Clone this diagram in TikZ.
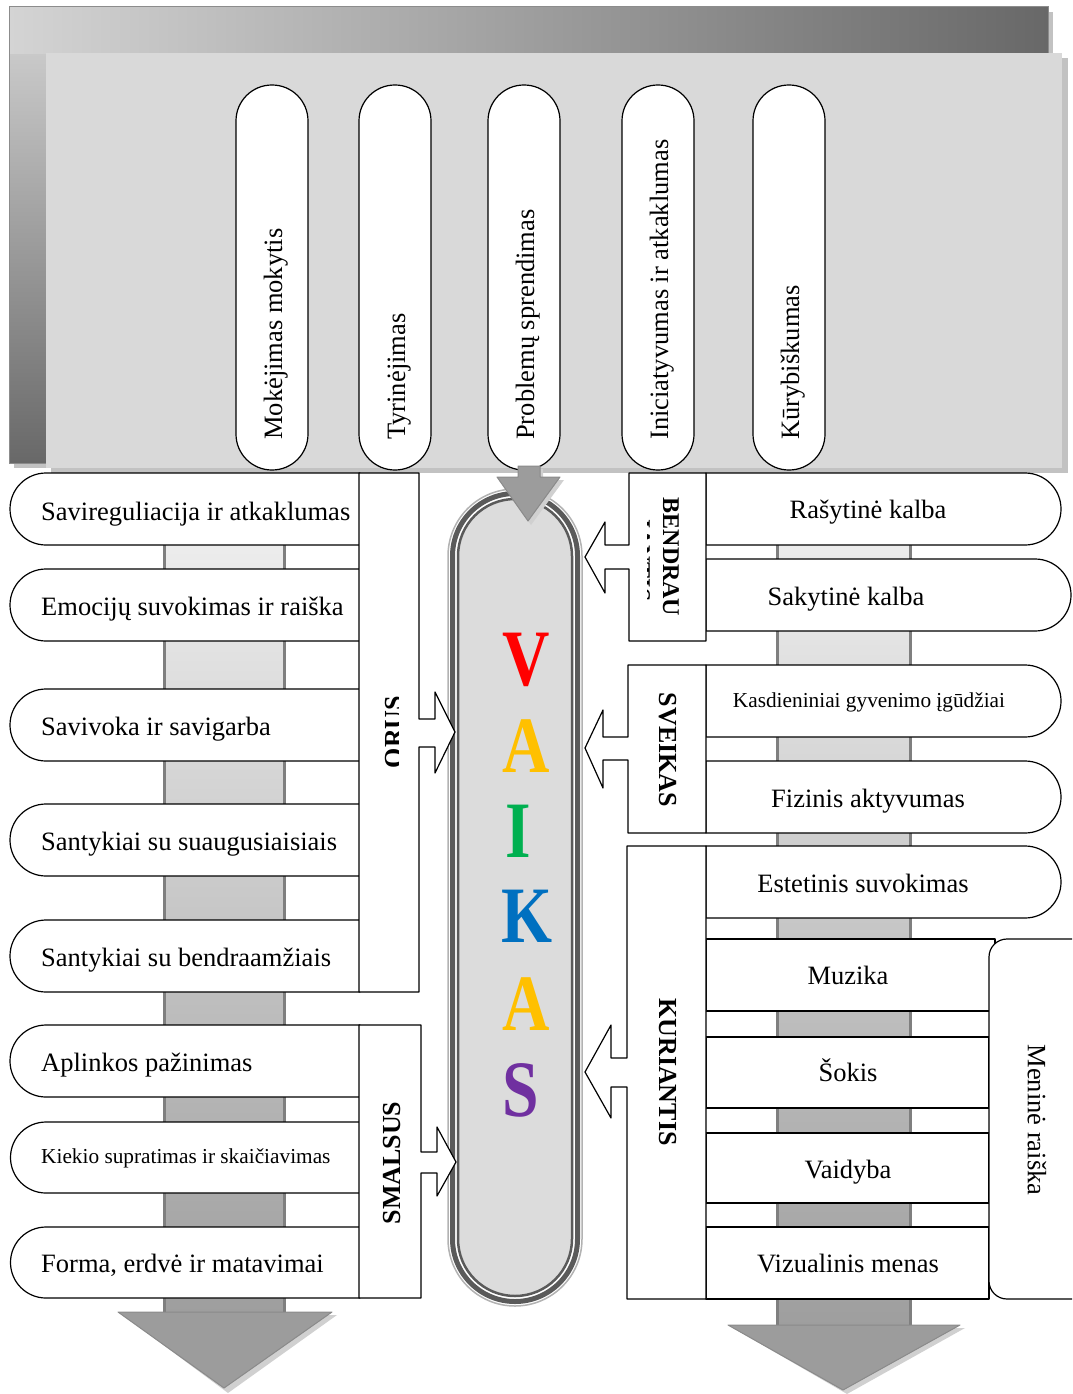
\documentclass[tikz,border=0pt]{standalone}
\usepackage{fontspec}
\setmainfont{Liberation Serif}
\definecolor{panel}{HTML}{D9D9D9}
\definecolor{panelshadow}{HTML}{C2C2C2}
\definecolor{framelight}{HTML}{D4D4D4}
\definecolor{framedark}{HTML}{686868}
\definecolor{frameedge}{HTML}{8C8C8C}
\definecolor{barline}{HTML}{7F7F7F}
\definecolor{bartop}{HTML}{F5F5F5}
\definecolor{barbottom}{HTML}{9E9E9E}
\definecolor{headgray}{HTML}{9C9C9C}
\definecolor{headedge}{HTML}{8A8A8A}
\definecolor{headshadow}{HTML}{D0D0D0}
\definecolor{capdark}{HTML}{5A5A5A}
\definecolor{capfill}{HTML}{DCDCDC}
\definecolor{vred}{HTML}{FF0000}
\definecolor{vyellow}{HTML}{FFC000}
\definecolor{vgreen}{HTML}{00B050}
\definecolor{vblue}{HTML}{0070C0}
\definecolor{vpurple}{HTML}{7030A0}
\begin{document}
\begin{tikzpicture}[x=1pt,y=-1pt,
  itembox/.style={draw=black, fill=white, line width=1.2pt, line join=round},
  capsule/.style={draw=black, fill=white, line width=1.2pt, rounded corners=35.9pt},
  itemtxt/.style={font=\fontsize{26.5}{30}\selectfont, inner sep=0pt},
  smalltxt/.style={font=\fontsize{21.3}{24}\selectfont, inner sep=0pt},
  lbl/.style={font=\bfseries\fontsize{26}{28}\selectfont, inner sep=0pt},
  lblsmall/.style={font=\bfseries\fontsize{24}{28}\selectfont, inner sep=0pt},
  letter/.style={font=\bfseries\fontsize{80}{80}\selectfont, inner sep=0pt},
  barside/.style={draw=barline, line width=3pt},
  head/.style={fill=headgray, draw=headedge, line width=1pt, line join=round}]
\useasboundingbox (0,0) rectangle (1072,1394);
\clip (0,0) rectangle (1072,1394);

% ---------- vertical gray bars with big arrows ----------
\shade[top color=bartop, bottom color=barbottom] (164,460) rectangle (284,1313);
\draw[barside] (164,460) -- (164,1313);
\draw[barside] (284,460) -- (284,1313);
\fill[headshadow] (123,1315) -- (337,1315) -- (228,1393) -- cycle;
\path[head] (118,1312) -- (332,1312) -- (224,1388) -- cycle;

\shade[top color=bartop, bottom color=barbottom] (777,460) rectangle (910,1326);
\draw[barside] (777,460) -- (777,1326);
\draw[barside] (910,460) -- (910,1326);
\fill[headshadow] (733,1328) -- (965,1328) -- (847,1394) -- cycle;
\path[head] (728,1325) -- (960,1325) -- (843,1390) -- cycle;

% ---------- top panel ----------
\fill[panelshadow] (14,12) rectangle (1053,468);
\shade[top color=framelight, bottom color=framedark] (9,7) rectangle (47,463);
\shade[left color=framelight, right color=framedark] (9,7) rectangle (1048,54);
\draw[frameedge, line width=1pt] (9,7) rectangle (1048,463);
\fill[panelshadow] (51,58) rectangle (1068,473);
\fill[panel] (46,53) rectangle (1062,468);

\filldraw[capsule] (236,85) rectangle (308,470);
\filldraw[capsule] (359,85) rectangle (431,470);
\filldraw[capsule] (488,85) rectangle (560,470);
\filldraw[capsule] (622,85) rectangle (694,470);
\filldraw[capsule] (753,85) rectangle (825,470);
\node[itemtxt, rotate=90, anchor=base west] (t1) at (282,440) {Mokėjimas mokytis};
\node[itemtxt, rotate=90, anchor=base west] (t2) at (405,440) {Tyrinėjimas};
\node[itemtxt, rotate=90, anchor=base west] (t3) at (534,440) {Problemų sprendimas};
\node[itemtxt, rotate=90, anchor=base west] (t4) at (668,440) {Iniciatyvumas ir atkaklumas};
\node[itemtxt, rotate=90, anchor=base west] (t5) at (799,440) {Kūrybiškumas};

% ---------- central capsule VAIKAS ----------
\filldraw[draw=gray!60, fill=white, line width=1.5pt, rounded corners=67pt] (448,489) rectangle (582,1306);
\draw[capdark, line width=5pt, rounded corners=62.5pt] (452.5,493.5) rectangle (577.5,1301.5);
\filldraw[draw=capdark, fill=capfill, line width=2.5pt, rounded corners=57pt] (458,499) rectangle (572,1296);

% top arrow into the capsule
\fill[headshadow] (521,469) -- (543,469) -- (543,480) -- (564,480) -- (531,525) -- (500,480) -- (521,480) -- cycle;
\path[head] (518,466) -- (540,466) -- (540,477) -- (560,477) -- (528,521) -- (497,477) -- (518,477) -- cycle;

\node[letter, text=vred] (lv) at (526,660) {\scalebox{0.82}[1]{V}};
\node[letter, text=vyellow] (la1) at (526,746) {\scalebox{0.82}[1]{A}};
\node[letter, text=vgreen] (li) at (518,831) {\scalebox{0.82}[1]{I}};
\node[letter, text=vblue] (lk) at (527,916) {\scalebox{0.82}[1]{K}};
\node[letter, text=vyellow] (la2) at (526,1004) {\scalebox{0.82}[1]{A}};
\node[letter, text=vpurple] (ls) at (521,1090) {\scalebox{0.82}[1]{S}};

% ---------- left items ----------
\filldraw[itembox] (360,473) -- (46,473) arc[start angle=270, end angle=90, radius=36] -- (360,545) -- cycle;
\filldraw[itembox] (360,569) -- (46,569) arc[start angle=270, end angle=90, radius=36] -- (360,641) -- cycle;
\filldraw[itembox] (360,689) -- (46,689) arc[start angle=270, end angle=90, radius=36] -- (360,761) -- cycle;
\filldraw[itembox] (360,804) -- (46,804) arc[start angle=270, end angle=90, radius=36] -- (360,876) -- cycle;
\filldraw[itembox] (360,920) -- (46,920) arc[start angle=270, end angle=90, radius=36] -- (360,992) -- cycle;
\filldraw[itembox] (360,1025) -- (46,1025) arc[start angle=270, end angle=90, radius=36] -- (360,1097) -- cycle;
\filldraw[itembox] (364,1122) -- (46,1122) arc[start angle=270, end angle=90, radius=35.5] -- (364,1193) -- cycle;
\filldraw[itembox] (360,1227) -- (46,1227) arc[start angle=270, end angle=90, radius=35.5] -- (360,1298) -- cycle;

\node[itemtxt, anchor=base west] (l1) at (41,520) {Savireguliacija ir atkaklumas};
\node[itemtxt, anchor=base west] (l2) at (41,615) {Emocijų suvokimas ir raiška};
\node[itemtxt, anchor=base west] (l3) at (41,735) {Savivoka ir savigarba};
\node[itemtxt, anchor=base west] (l4) at (41,850) {Santykiai su suaugusiaisiais};
\node[itemtxt, anchor=base west] (l5) at (41,966) {Santykiai su bendraamžiais};
\node[itemtxt, anchor=base west] (l6) at (41,1071) {Aplinkos pažinimas};
\node[smalltxt, anchor=base west] (l7) at (41,1163) {Kiekio supratimas ir skaičiavimas};
\node[itemtxt, anchor=base west] (l8) at (41,1272) {Forma, erdvė ir matavimai};

% ORUS box with arrow
\filldraw[itembox] (359,473) -- (419,473) -- (419,719) -- (435,719) -- (435,692) -- (455,732) -- (435,773) -- (435,747) -- (419,747) -- (419,992) -- (359,992) -- cycle;
\begin{scope}
\clip (362,690) rectangle (398.5,775);
\node[lbl, rotate=90] (orus) at (394,732) {ORUS};
\end{scope}

% SMALSUS box with arrow
\filldraw[itembox] (359,1025) -- (421,1025) -- (421,1152) -- (437,1152) -- (437,1127) -- (456,1162) -- (437,1196) -- (437,1173) -- (421,1173) -- (421,1298) -- (359,1298) -- cycle;
\node[lbl, rotate=90] (smalsus) at (392.5,1163) {SMALSUS};

% ---------- right items ----------
\filldraw[itembox] (706,473) -- (1025,473) arc[start angle=270, end angle=450, radius=36] -- (706,545) -- cycle;
\filldraw[itembox] (706,559) -- (1035,559) arc[start angle=270, end angle=450, radius=36] -- (706,631) -- cycle;
\filldraw[itembox] (706,665) -- (1025,665) arc[start angle=270, end angle=450, radius=36] -- (706,737) -- cycle;
\filldraw[itembox] (706,761) -- (1025,761) arc[start angle=270, end angle=450, radius=36] -- (706,833) -- cycle;
\filldraw[itembox] (706,846) -- (1025,846) arc[start angle=270, end angle=450, radius=36] -- (706,918) -- cycle;
\filldraw[itembox] (706,939) rectangle (995,1011);
\filldraw[itembox] (706,1037) rectangle (989,1108);
\filldraw[itembox] (706,1133) rectangle (989,1203);
\filldraw[itembox] (706,1227) rectangle (989,1299);

\node[itemtxt, anchor=base] (r1) at (868,518) {Rašytinė kalba};
\node[itemtxt, anchor=base] (r2) at (846,605) {Sakytinė kalba};
\node[smalltxt, anchor=base] (r3) at (869,707) {Kasdieniniai gyvenimo įgūdžiai};
\node[itemtxt, anchor=base] (r4) at (868,807) {Fizinis aktyvumas};
\node[itemtxt, anchor=base] (r5) at (863,892) {Estetinis suvokimas};
\node[itemtxt, anchor=base] (r6) at (848,984) {Muzika};
\node[itemtxt, anchor=base] (r7) at (848,1081) {Šokis};
\node[itemtxt, anchor=base] (r8) at (848,1178) {Vaidyba};
\node[itemtxt, anchor=base] (r9) at (848,1272) {Vizualinis menas};

% BENDRAUJANTIS box
\filldraw[itembox] (706,473) -- (629,473) -- (629,545) -- (605,545) -- (605,522) -- (585,557) -- (605,593) -- (605,569) -- (629,569) -- (629,641) -- (706,641) -- cycle;
\node[lblsmall, rotate=-90] (bendrau) at (671,557) {BENDRAU};
\begin{scope}
\clip (647,480) rectangle (654,635);
\node[lblsmall, rotate=-90] (jantis) at (642,559) {JANTIS};
\end{scope}

% SVEIKAS box
\filldraw[itembox] (706,665) -- (628,665) -- (628,737) -- (603,737) -- (603,710) -- (585,748) -- (603,788) -- (603,760) -- (628,760) -- (628,833) -- (706,833) -- cycle;
\node[lbl, rotate=-90] (sveikas) at (668,750) {SVEIKAS};

% KURIANTIS box
\filldraw[itembox] (706,846) -- (627,846) -- (627,1058) -- (611,1058) -- (611,1025) -- (585,1072) -- (611,1118) -- (611,1087) -- (627,1087) -- (627,1299) -- (706,1299) -- cycle;
\node[lbl, rotate=-90] (kuriantis) at (668,1072) {KURIANTIS};

% Menine raiska box
\filldraw[itembox, rounded corners=18pt] (989,939) rectangle (1095,1299);
\node[itemtxt, rotate=-90] (menine) at (1037,1120) {Meninė raiška};
\end{tikzpicture}
\end{document}
